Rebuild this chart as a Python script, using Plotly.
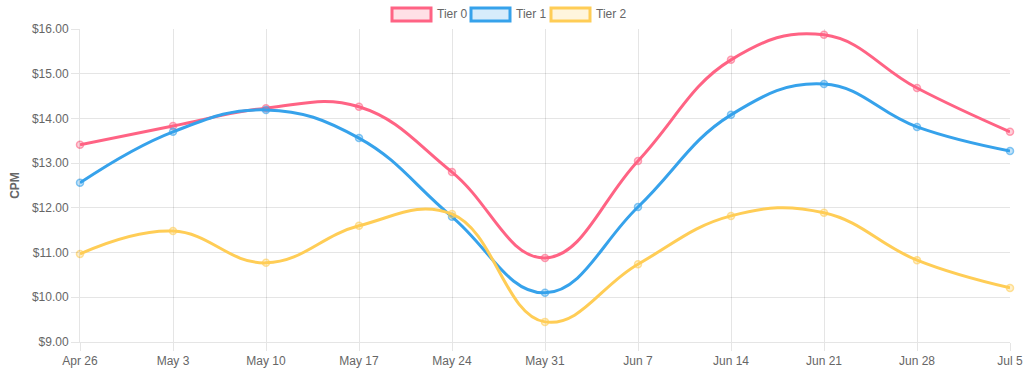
import plotly.graph_objects as go

weeks = ["Apr 26", "May 3", "May 10", "May 17", "May 24", "May 31",
         "Jun 7", "Jun 14", "Jun 21", "Jun 28", "Jul 5"]
tier0 = [13.41, 13.83, 14.23, 14.26, 12.80, 10.88, 13.05, 15.31, 15.87, 14.68, 13.70]
tier1 = [12.56, 13.70, 14.19, 13.56, 11.80, 10.10, 12.02, 14.08, 14.77, 13.81, 13.27]
tier2 = [10.97, 11.48, 10.77, 11.60, 11.86, 9.45, 10.74, 11.82, 11.89, 10.83, 10.21]
series_names = ["Tier 0", "Tier 1", "Tier 2"]
rgb = ["255,99,132", "54,162,235", "255,205,86"]
y_ticks = [9, 10, 11, 12, 13, 14, 15, 16]

FONT = "Liberation Sans, Arial, Helvetica, sans-serif"
GRID = "rgba(0,0,0,0.1)"

fig = go.Figure()
for name, vals, c in zip(series_names, [tier0, tier1, tier2], rgb):
    fig.add_trace(go.Scatter(
        x=weeks, y=vals, name=name, mode="lines+markers",
        line=dict(color=f"rgb({c})", width=3, shape="spline", smoothing=1.2),
        marker=dict(size=7, color=f"rgba({c},0.3)", line=dict(color=f"rgba({c},0.6)", width=1.5)),
        showlegend=False, cliponaxis=False,
    ))

# Chart.js-style legend (boxes + labels) in paper coordinates
box_x = [392, 471, 551]
W, H = 1024, 369
ml, mr, mt, mb = 80, 14, 29, 27
pw, ph = W - ml - mr, H - mt - mb
def px2paper_x(px):
    return (px - ml) / pw
def px2paper_y(py):
    return 1 - (py - mt) / ph
for bx, name, c in zip(box_x, series_names, rgb):
    fig.add_shape(type="rect", xref="paper", yref="paper",
                  x0=px2paper_x(bx), x1=px2paper_x(bx + 39),
                  y0=px2paper_y(21), y1=px2paper_y(8),
                  line=dict(color=f"rgb({c})", width=3), fillcolor=f"rgba({c},0.2)", layer="above")
    fig.add_annotation(xref="paper", yref="paper", x=px2paper_x(bx + 43), y=px2paper_y(14.5),
                       xanchor="left", yanchor="middle", showarrow=False,
                       text=name, font=dict(family=FONT, size=12, color="#666"))

fig.update_layout(
    width=W, height=H,
    margin=dict(l=ml, r=mr, t=mt, b=mb, autoexpand=False),
    paper_bgcolor="white", plot_bgcolor="white",
    font=dict(family=FONT, size=12, color="#666"),
    hovermode=False,
)
fig.update_xaxes(
    type="category", range=[0, len(weeks) - 1], automargin=False,
    showgrid=True, gridcolor=GRID, gridwidth=1,
    showline=True, linecolor=GRID, linewidth=1,
    ticks="outside", ticklen=8, tickcolor=GRID,
    tickfont=dict(family=FONT, size=12, color="#666"),
    zeroline=False,
)
fig.update_yaxes(
    range=[9, 16], tickvals=y_ticks, tickformat="$.2f", automargin=False,
    showgrid=True, gridcolor=GRID, gridwidth=1,
    showline=True, linecolor=GRID, linewidth=1,
    ticks="outside", ticklen=8, tickcolor=GRID,
    tickfont=dict(family=FONT, size=12, color="#666"),
    zeroline=False,
    title=dict(text="<b>CPM</b>", font=dict(family=FONT, size=12, color="#666"), standoff=9),
)

fig.write_html("out.html", config={"displayModeBar": False},
               post_script="document.body.style.margin='0';document.body.style.overflow='hidden';")
